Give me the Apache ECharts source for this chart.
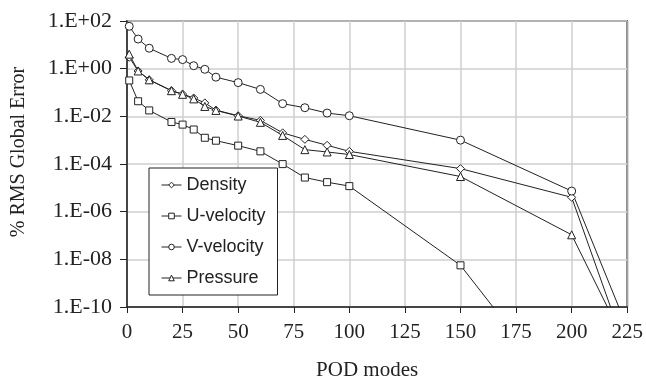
<!DOCTYPE html>
<html>
<head>
<meta charset="utf-8">
<script src="https://cdn.jsdelivr.net/npm/echarts@6/dist/echarts.min.js"></script>
<style>
  html, body { margin: 0; padding: 0; background: #fff; }
</style>
</head>
<body>
<div id="podchart" style="width:646px;height:386px"></div>
<script>
// POD modes (last one lies outside the plotted range, only used so the lines run off the bottom)
var modes = [1, 5, 10, 20, 25, 30, 35, 40, 50, 60, 70, 80, 90, 100, 150, 200, 250]
var density = [3.0, 0.80, 0.34, 0.119, 0.086, 0.059, 0.0366, 0.0182, 0.0106, 0.0068, 0.00203, 0.00108, 0.00061, 0.00034, 6.4e-5, 4.0e-6, 2.8e-19]
var uVelocity = [0.32, 0.043, 0.0177, 0.0058, 0.0045, 0.0028, 0.00126, 0.00095, 0.00059, 0.00034, 9.9e-5, 2.7e-5, 1.73e-5, 1.18e-5, 5.6e-9, 6e-15, null]
var vVelocity = [60, 17.5, 7.2, 2.7, 2.4, 1.33, 0.94, 0.44, 0.26, 0.135, 0.034, 0.023, 0.0137, 0.0106, 1.0e-3, 7.3e-6, 2.5e-17]
var pressure = [4.06, 0.80, 0.34, 0.119, 0.084, 0.054, 0.026, 0.0177, 0.0103, 0.0056, 0.00158, 0.0004, 0.00032, 0.00025, 2.98e-5, 1.07e-7, 4e-17]
var xTicks = [0, 25, 50, 75, 100, 125, 150, 175, 200, 225]

var serif = 'Liberation Serif'
var sans = 'Liberation Sans'

function pairs (vals) {
  var out = []
  for (var i = 0; i < modes.length; i++) {
    out.push([modes[i], vals[i]])
  }
  return out
}

function sciLabel (v) {
  var e = Math.round(Math.log10(v))
  return '1.E' + (e < 0 ? '-' : '+') + String(Math.abs(e)).padStart(2, '0')
}

function makeSeries (name, vals, symbol, size) {
  return {
    name: name,
    type: 'line',
    data: pairs(vals),
    symbol: symbol,
    symbolSize: size,
    showAllSymbol: true,
    clip: true,
    connectNulls: false,
    color: '#222',
    lineStyle: { color: '#222', width: 1 },
    itemStyle: { color: '#fff', borderColor: '#222', borderWidth: 1 },
    emphasis: { disabled: true }
  }
}

var chart = echarts.init(document.getElementById('podchart'))
chart.setOption({
  animation: false,
  grid: {
    left: 127,
    right: 18,
    top: 21,
    bottom: 76,
    show: true,
    borderColor: '#222',
    borderWidth: 1.5,
    containLabel: false
  },
  legend: {
    orient: 'vertical',
    left: 149,
    top: 168,
    padding: [8, 12],
    itemGap: 13,
    itemWidth: 20,
    itemHeight: 7,
    borderColor: '#222',
    borderWidth: 1,
    backgroundColor: '#fff',
    itemStyle: { color: '#fff', borderColor: '#222', borderWidth: 1 },
    lineStyle: { color: '#222', width: 1 },
    textStyle: { fontFamily: sans, fontSize: 18, color: '#222' },
    data: ['Density', 'U-velocity', 'V-velocity', 'Pressure']
  },
  xAxis: {
    type: 'value',
    min: xTicks[0],
    max: xTicks[xTicks.length - 1],
    interval: 25,
    name: 'POD modes',
    nameLocation: 'middle',
    nameGap: 53,
    nameTextStyle: { fontFamily: serif, fontSize: 21, color: '#222', padding: [0, 20, 0, 0] },
    axisLine: { show: true, lineStyle: { color: '#222', width: 1.5 } },
    axisTick: { show: true, inside: false, length: 6, lineStyle: { color: '#222' } },
    axisLabel: { fontFamily: serif, fontSize: 21, color: '#222', margin: 15 },
    splitLine: { show: true, lineStyle: { color: '#cfcfcf', width: 1.5 } }
  },
  yAxis: {
    type: 'log',
    logBase: 100,
    min: 1e-10,
    max: 1e2,
    name: '% RMS Global Error',
    nameLocation: 'middle',
    nameGap: 98,
    nameTextStyle: { fontFamily: serif, fontSize: 20, color: '#222', padding: [0, 0, 0, 24] },
    axisLine: { show: true, lineStyle: { color: '#222', width: 1.5 } },
    axisTick: { show: true, inside: false, length: 7, lineStyle: { color: '#222' } },
    axisLabel: { fontFamily: serif, fontSize: 22, color: '#222', margin: 15, formatter: sciLabel },
    splitLine: { show: true, lineStyle: { color: '#cfcfcf', width: 1.5 } }
  },
  series: [
    makeSeries('Density', density, 'diamond', 8),
    makeSeries('U-velocity', uVelocity, 'rect', 7),
    makeSeries('V-velocity', vVelocity, 'circle', 8),
    makeSeries('Pressure', pressure, 'triangle', 8)
  ]
})
</script>
</body>
</html>
